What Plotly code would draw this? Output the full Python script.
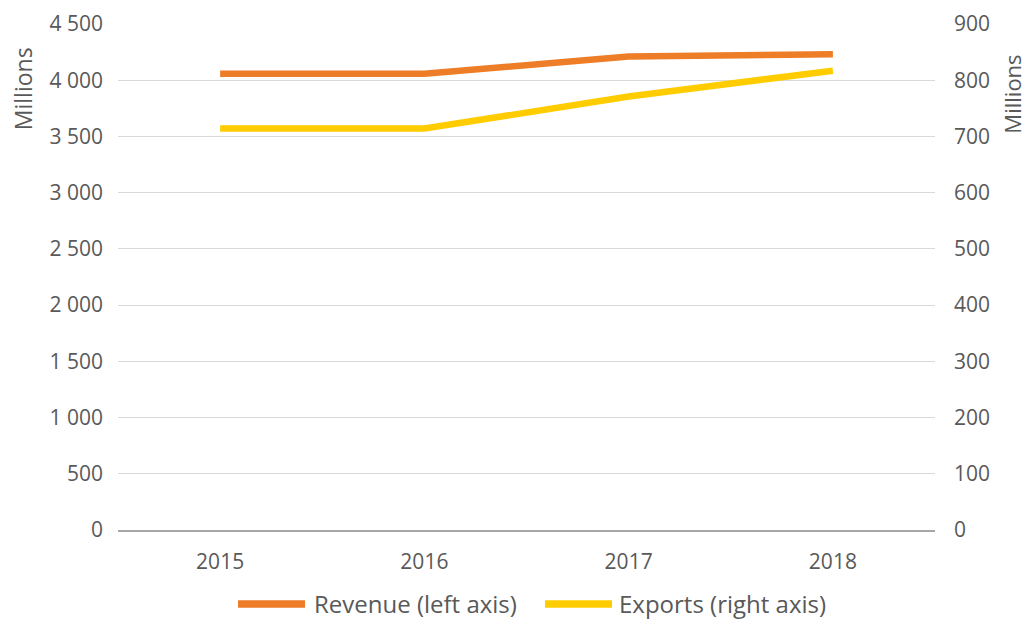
import plotly.graph_objects as go

years = ["2015", "2016", "2017", "2018"]
revenue = [4057, 4057, 4211, 4232]
exports = [714, 714, 771, 817]
series_names = ["Revenue (left axis)", "Exports (right axis)"]
series_colors = ["#EE7D27", "#FFCC00"]

left_ticks = [0, 500, 1000, 1500, 2000, 2500, 3000, 3500, 4000, 4500]
left_labels = ["0", "500", "1 000", "1 500", "2 000", "2 500", "3 000", "3 500", "4 000", "4 500"]
right_ticks = [0, 100, 200, 300, 400, 500, 600, 700, 800, 900]

FONT = "Open Sans"
TXT = "#595959"
TICK = 21

fig = go.Figure()
fig.add_trace(go.Scatter(x=years, y=revenue, name=series_names[0], mode="lines",
                         line=dict(color=series_colors[0], width=6.5), yaxis="y"))
fig.add_trace(go.Scatter(x=years, y=exports, name=series_names[1], mode="lines",
                         line=dict(color=series_colors[1], width=6.5), yaxis="y2"))

# custom legend (long line symbols like the reference)
legend_y = -0.146
legend_items = [(0.1469, 0.2289, 0.2375), (0.5226, 0.6047, 0.6108)]
shapes = []
annotations = []
for (x0, x1, xt), name, col in zip(legend_items, series_names, series_colors):
    shapes.append(dict(type="line", xref="paper", yref="paper", x0=x0, x1=x1,
                       y0=legend_y, y1=legend_y, line=dict(color=col, width=7.5)))
    annotations.append(dict(text=name, xref="paper", yref="paper", x=xt, y=legend_y,
                            xanchor="left", yanchor="middle", showarrow=False,
                            font=dict(size=24, color=TXT)))

annotations += [
    dict(text="Millions", xref="paper", yref="paper", x=-0.117, y=0.872, textangle=-90,
         showarrow=False, font=dict(size=23, color=TXT), xanchor="center", yanchor="middle"),
    dict(text="Millions", xref="paper", yref="paper", x=1.094, y=0.862, textangle=-90,
         showarrow=False, font=dict(size=22, color=TXT), xanchor="center", yanchor="middle"),
]

fig.update_layout(
    width=1022, height=611,
    margin=dict(l=110, r=95, t=16, b=89, autoexpand=False),
    paper_bgcolor="white", plot_bgcolor="white",
    font=dict(family=FONT, size=TICK, color=TXT),
    showlegend=False,
    xaxis=dict(type="category", range=[-0.5, 3.5], showgrid=False, showline=True,
               linecolor="#A6A6A6", linewidth=1.5, ticks="", tickfont=dict(size=TICK, color=TXT),
               ticklabelstandoff=12, zeroline=False, automargin=False),
    yaxis=dict(range=[0, 4500], tickvals=left_ticks, ticktext=left_labels,
               showgrid=True, gridcolor="#D9D9D9", gridwidth=1.2, zeroline=False,
               showline=False, ticks="", tickfont=dict(size=TICK, color=TXT),
               ticklabelstandoff=14, automargin=False),
    yaxis2=dict(range=[0, 900], tickvals=right_ticks, overlaying="y", side="right",
                showgrid=False, zeroline=False, showline=False, ticks="",
                tickfont=dict(size=TICK, color=TXT), ticklabelstandoff=18, automargin=False),
    shapes=shapes,
    annotations=annotations,
)

fig.write_html("out.html")
